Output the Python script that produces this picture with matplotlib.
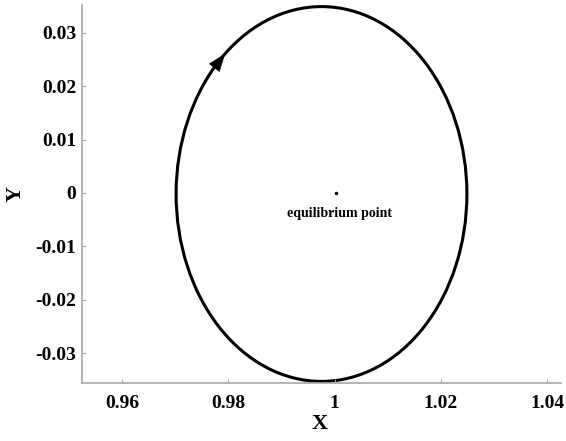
import numpy as np
import matplotlib.pyplot as plt
from matplotlib.patches import Ellipse

# orbit around the equilibrium point
orbit_center = (0.99755, -0.0002)
orbit_width = 0.0547
orbit_height = 0.0702
arrow_angles = [139.0, 131.5]  # degrees along the orbit, tail -> head

eq_point = (1.0002, 0.0)
eq_label = 'equilibrium point'

x_ticks = [0.96, 0.98, 1.0, 1.02, 1.04]
x_ticklabels = ['0.96', '0.98', '1', '1.02', '1.04']
y_ticks = [-0.03, -0.02, -0.01, 0.0, 0.01, 0.02, 0.03]
y_ticklabels = ['-0.03', '-0.02', '-0.01', '0', '0.01', '0.02', '0.03']
x_lim = (0.9525, 1.0426)
y_lim = (-0.0356, 0.0352)

plt.rcParams['font.family'] = ['Liberation Serif', 'DejaVu Serif']
plt.rcParams['font.weight'] = 'bold'

fig = plt.figure(figsize=(5.66, 4.41), dpi=100)
ax = fig.add_axes([82/566, 58/441, 479/566, 378/441])

ell = Ellipse(orbit_center, orbit_width, orbit_height, fill=False,
              edgecolor='black', linewidth=2.2, clip_on=False)
ax.add_patch(ell)

# direction arrow on the orbit
a, b = orbit_width/2, orbit_height/2
t0, t1 = np.radians(arrow_angles)
tail = (orbit_center[0] + a*np.cos(t0), orbit_center[1] + b*np.sin(t0))
head = (orbit_center[0] + a*np.cos(t1), orbit_center[1] + b*np.sin(t1))
ax.annotate('', xy=head, xytext=tail,
            arrowprops=dict(arrowstyle='-|>,head_length=1.2,head_width=0.45',
                            color='black', lw=0.5, shrinkA=0, shrinkB=0))

ax.plot(eq_point[0], eq_point[1], 'o', color='black', markersize=1.5)
ax.text(eq_point[0] + 0.0008, eq_point[1] - 0.0038, eq_label,
        ha='center', va='center', fontsize=10, fontweight='bold')

ax.set_xlim(*x_lim)
ax.set_ylim(*y_lim)
ax.set_xticks(x_ticks)
ax.set_xticklabels(x_ticklabels)
ax.set_yticks(y_ticks)
ax.set_yticklabels(y_ticklabels)

for side in ['top', 'right']:
    ax.spines[side].set_visible(False)
for side in ['left', 'bottom']:
    ax.spines[side].set_color('#a8a8a8')
    ax.spines[side].set_linewidth(1.2)

ax.tick_params(axis='both', direction='in', length=3, width=0.8,
               color='#a8a8a8', labelsize=14)
ax.tick_params(axis='x', pad=9)
ax.tick_params(axis='y', pad=4)
for lab in ax.get_xticklabels() + ax.get_yticklabels():
    lab.set_fontweight('bold')

ax.set_xlabel('X', fontsize=16, fontweight='bold', va='center')
ax.xaxis.set_label_coords(0.497, -0.108)
ax.set_ylabel('Y', fontsize=16, fontweight='bold', va='center')
ax.yaxis.set_label_coords(-0.139, 0.5)

fig.savefig('out.png', dpi=100)
